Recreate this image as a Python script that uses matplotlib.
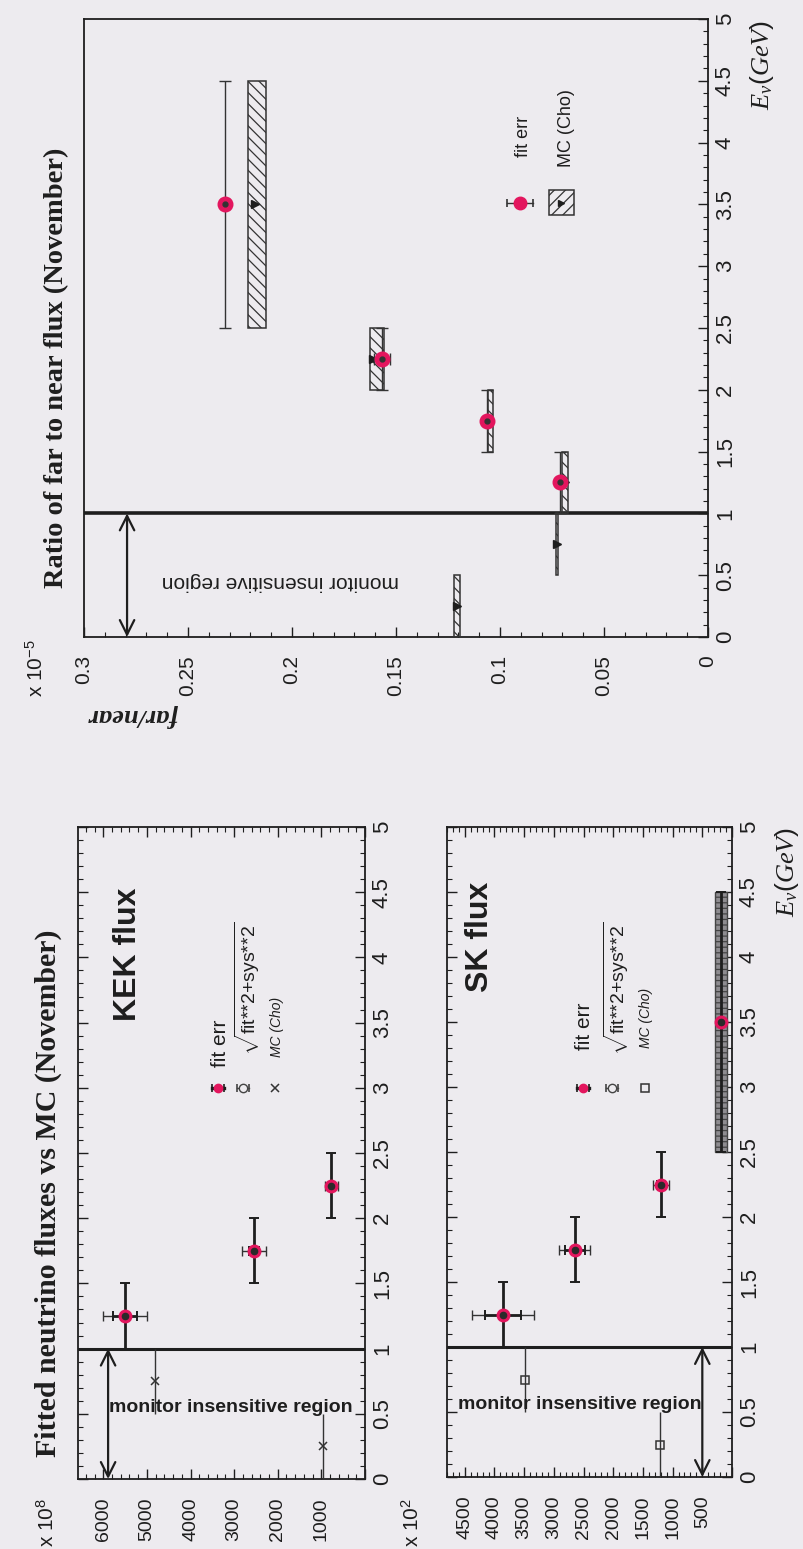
import matplotlib
matplotlib.use('Agg')
import matplotlib.pyplot as plt
from matplotlib.ticker import MultipleLocator, FuncFormatter
from matplotlib.patches import Rectangle
import numpy as np

plt.rcParams['font.family'] = ['Liberation Sans', 'DejaVu Sans']
plt.rcParams['mathtext.fontset'] = 'custom'
plt.rcParams['mathtext.rm'] = 'Liberation Sans'
plt.rcParams['mathtext.sf'] = 'Liberation Sans'
plt.rcParams['mathtext.it'] = 'Liberation Serif:italic'
plt.rcParams['mathtext.bf'] = 'Liberation Sans:bold'
plt.rcParams['hatch.linewidth'] = 0.9

# ---------------- data ----------------
energy_lo = [1.0, 1.5, 2.0, 2.5]
energy_hi = [1.5, 2.0, 2.5, 4.5]
energy_mid = [1.25, 1.75, 2.25, 3.5]

kek_flux = [5495, 2546, 772]
kek_fit_err = [276, 110, 60]
kek_tot_err = [507, 265, 150]

sk_flux = [3859, 2651, 1191, 185]
sk_fit_err = [300, 170, 70, 30]
sk_tot_err = [520, 265, 135, 60]
sk_box_lo = [90]
sk_box_hi = [290]

mc_energy_lo = [0.0, 0.5]
mc_energy_hi = [0.5, 1.0]
kek_mc_flux = [956, 4804]
sk_mc_flux = [1208, 3490]

ratio = [0.0712, 0.1063, 0.1567, 0.2322]
ratio_err = [0.0015, 0.0015, 0.004, 0.002]

mc_ratio_energy_lo = [0.0, 0.5, 1.0, 1.5, 2.0, 2.5]
mc_ratio_energy_hi = [0.5, 1.0, 1.5, 2.0, 2.5, 4.5]
mc_ratio_lo = [0.1192, 0.0722, 0.0673, 0.1034, 0.1560, 0.2125]
mc_ratio_hi = [0.1221, 0.0730, 0.0702, 0.1058, 0.1625, 0.2212]
mc_ratio_mid = [0.1207, 0.0726, 0.0688, 0.1046, 0.1610, 0.2178]

insensitive_edge = 1.0
kek_arrow_at = 5890
sk_arrow_at = 500
ratio_arrow_at = 0.2793

# ---------------- figure ----------------
W, H = 804, 1549
BG = '#edebef'
RED = '#e3165e'
INK = '#1e1e1e'
fig = plt.figure(figsize=(W / 100, H / 100), dpi=100, facecolor=BG)


def add_ax(x0, y0, x1, y1):
    ax = fig.add_axes([x0 / W, 1 - y1 / H, (x1 - x0) / W, (y1 - y0) / H])
    ax.set_facecolor(BG)
    return ax


axR = add_ax(84, 19, 708, 637)
axK = add_ax(78, 827, 365, 1479)
axS = add_ax(447, 827, 732, 1477)


def fmt_g(v, pos):
    v = round(v, 4)
    return '0' if v == 0 else f'{v:g}'


def fmt_flux(v, pos):
    return '' if abs(v) < 1e-6 else f'{v:.0f}'


def style(ax, xmax, xmajor, xminor, mirror, xfmt, xls, yls, xpad):
    ax.set_xlim(xmax, 0)
    ax.set_ylim(0, 5)
    ax.xaxis.set_major_locator(MultipleLocator(xmajor))
    ax.xaxis.set_minor_locator(MultipleLocator(xminor))
    ax.yaxis.set_major_locator(MultipleLocator(0.5))
    ax.yaxis.set_minor_locator(MultipleLocator(0.1))
    ax.xaxis.set_major_formatter(FuncFormatter(xfmt))
    ax.yaxis.set_major_formatter(FuncFormatter(fmt_g))
    ax.yaxis.tick_right()
    ax.tick_params(which='both', direction='in', bottom=True, right=True,
                   top=mirror, left=mirror, labelleft=False, labeltop=False,
                   labelright=True, labelbottom=True, colors=INK)
    ax.tick_params(which='major', length=7, width=1.0)
    ax.tick_params(which='minor', length=3.5, width=0.8)
    ax.tick_params(axis='x', labelrotation=90, pad=xpad, labelsize=xls)
    ax.tick_params(axis='y', labelrotation=90, pad=5, labelsize=yls)
    for lab in ax.get_yticklabels():
        lab.set_va('center')
    for s in ax.spines.values():
        s.set_linewidth(1.3)
        s.set_color(INK)


style(axR, 0.3, 0.05, 0.01, False, fmt_g, 15, 16, 13)
style(axK, 6580, 1000, 200, True, fmt_flux, 14, 16, 13)
style(axS, 4800, 500, 100, True, fmt_flux, 14, 16, 13)

E = np.array(energy_mid)
ylo = E - np.array(energy_lo)
yhi = np.array(energy_hi) - E
mcE = (np.array(mc_energy_lo) + np.array(mc_energy_hi)) / 2
mc_half = (np.array(mc_energy_hi) - np.array(mc_energy_lo)) / 2


def arrow(ax, x):
    ax.annotate('', xy=(x, 0), xytext=(x, insensitive_edge),
                arrowprops=dict(arrowstyle='<->', lw=1.6, color=INK,
                                mutation_scale=26, shrinkA=0, shrinkB=0),
                zorder=4)


def leg_bar(ax, fx, fy, half, color, lw, capms, marker, ms, mfc, mec):
    T = ax.transAxes
    ax.plot([fx - half, fx + half], [fy, fy], color=color, lw=lw,
            transform=T, clip_on=False, zorder=8)
    ax.plot([fx - half, fx + half], [fy, fy], ls='none', marker='|', ms=capms,
            mew=1.2, color=color, transform=T, clip_on=False, zorder=8)
    if marker:
        ax.plot([fx], [fy], ls='none', marker=marker, ms=ms, mfc=mfc, mec=mec,
                mew=1.0, transform=T, clip_on=False, zorder=9)


# ---------------- ratio panel ----------------
ax = axR
ax.axhline(insensitive_edge, color=INK, lw=2.6, zorder=3)
arrow(ax, ratio_arrow_at)
mrE_lo = np.array(mc_ratio_energy_lo)
mrE_hi = np.array(mc_ratio_energy_hi)
ax.barh((mrE_lo + mrE_hi) / 2, np.subtract(mc_ratio_hi, mc_ratio_lo),
        height=mrE_hi - mrE_lo, left=mc_ratio_lo, facecolor='none',
        edgecolor='#333333', hatch='\\\\\\', lw=1.1, zorder=4)
ax.plot(mc_ratio_mid, (mrE_lo + mrE_hi) / 2, '>', color=INK, ms=5.5, zorder=5)
ax.errorbar(ratio, E, xerr=ratio_err, yerr=[ylo, yhi], fmt='none',
            ecolor='#333333', elinewidth=1.0, capsize=4, capthick=1.0, zorder=5)
ax.plot(ratio, E, 'o', color=RED, ms=10.5, zorder=6)
ax.plot(ratio, E, 'o', color='#333333', ms=3.5, zorder=7)
ax.text(0.315, 0.089, 'monitor insensitive region', transform=ax.transAxes,
        rotation=180, ha='center', va='center', fontsize=15, color=INK)
# legend
leg_bar(ax, 0.699, 0.702, 0.021, '#333333', 1.0, 6, 'o', 9, RED, RED)
ax.text(0.705, 0.777, 'fit err', transform=ax.transAxes, rotation=90,
        rotation_mode='anchor', ha='left', va='center', fontsize=13, color=INK)
ax.add_patch(Rectangle((0.745, 0.683), 0.040, 0.040, transform=ax.transAxes,
                       fill=False, hatch='///', ec='#333333', lw=1.1, zorder=8))
ax.plot([0.765], [0.703], '>', color=INK, ms=5, transform=ax.transAxes, zorder=9)
ax.text(0.774, 0.760, 'MC (Cho)', transform=ax.transAxes, rotation=90,
        rotation_mode='anchor', ha='left', va='center', fontsize=13, color=INK)

# ---------------- KEK / SK panels ----------------
SQRT = r'$\sqrt{\mathsf{fit{*}{*}2{+}sys{*}{*}2}}$'


def flux_panel(ax, flux, fit_err, tot_err, mc_flux, arrow_at, mc_marker, name,
               name_pos, text_pos, leg):
    n = len(flux)
    ax.axhline(insensitive_edge, color=INK, lw=2.2, zorder=3)
    arrow(ax, arrow_at)
    ax.errorbar(mc_flux, mcE, yerr=mc_half, fmt=mc_marker, color='#333333',
                mfc='none' if mc_marker == 's' else '#333333', ms=6, mew=1.1,
                elinewidth=1.0, capsize=0, zorder=5)
    ax.errorbar(flux, E[:n], xerr=tot_err, fmt='none', ecolor='#333333',
                elinewidth=1.0, capsize=3.5, capthick=1.0, zorder=5)
    ax.errorbar(flux, E[:n], xerr=fit_err, yerr=[ylo[:n], yhi[:n]], fmt='none',
                ecolor=INK, elinewidth=2.0, capsize=3.5, capthick=1.4, zorder=5)
    ax.plot(flux, E[:n], 'o', color=RED, ms=9, zorder=6)
    ax.plot(flux, E[:n], 'o', color='#2a2a2a', ms=4.5, zorder=7)
    ax.text(*name_pos, name, transform=ax.transAxes, rotation=90, ha='center',
            va='center', fontsize=23, fontweight='bold', color=INK)
    ax.text(*text_pos, 'monitor insensitive region', transform=ax.transAxes,
            ha='center', va='center', fontsize=14, fontweight='bold', color=INK,
            zorder=9)
    (m1, t1), (m2, t2), (m3, t3) = leg
    leg_bar(ax, m1[0], m1[1], 0.022, INK, 2.4, 6, 'o', 6, RED, RED)
    ax.text(*t1, 'fit err', transform=ax.transAxes, rotation=90,
            rotation_mode='anchor', ha='left', va='center', fontsize=15, color=INK)
    leg_bar(ax, m2[0], m2[1], 0.022, '#444444', 1.0, 6, 'o', 6, BG, '#444444')
    ax.text(*t2, SQRT, transform=ax.transAxes, rotation=90,
            rotation_mode='anchor', ha='left', va='center', fontsize=14, color=INK)
    ax.plot([m3[0]], [m3[1]], ls='none', marker=mc_marker, ms=6, mew=1.1,
            mfc='none', mec='#333333', color='#333333', transform=ax.transAxes, zorder=9)
    ax.text(*t3, 'MC (Cho)', transform=ax.transAxes, rotation=90,
            rotation_mode='anchor', ha='left', va='center', fontsize=10,
            style='italic', color=INK)


flux_panel(axK, kek_flux, kek_fit_err, kek_tot_err, kek_mc_flux, kek_arrow_at,
           'x', 'KEK flux', (0.174, 0.804), (0.533, 0.11),
           [((0.488, 0.600), (0.495, 0.632)),
            ((0.575, 0.600), (0.589, 0.650)),
            ((0.686, 0.600), (0.693, 0.647))])
axS.barh([3.5], np.subtract(sk_box_hi, sk_box_lo), height=2.0, left=sk_box_lo,
         facecolor='#8e8c90', edgecolor='#444444', hatch='---', lw=1.0, zorder=4)
flux_panel(axS, sk_flux, sk_fit_err, sk_tot_err, sk_mc_flux, sk_arrow_at,
           's', 'SK flux', (0.116, 0.831), (0.467, 0.111),
           [((0.477, 0.598), (0.481, 0.657)),
            ((0.579, 0.598), (0.595, 0.649)),
            ((0.695, 0.598), (0.698, 0.660))])


# ---------------- figure texts ----------------
def ftext(px, py, s, **kw):
    fig.text(px / W, 1 - py / H, s, **kw)


SERIF = ['Liberation Serif', 'DejaVu Serif']
ftext(57, 368, 'Ratio of far to near flux (November)', rotation=90, ha='center',
      va='center', family=SERIF, fontweight='bold', fontsize=20.5, color=INK)
ftext(48, 1193, 'Fitted neutrino fluxes vs MC (November)', rotation=90,
      ha='center', va='center', family=SERIF, fontweight='bold', fontsize=21.5,
      color=INK)
ftext(133, 715, 'far/near', rotation=180, ha='center', va='center', family=SERIF,
      style='italic', fontweight='bold', fontsize=19, color=INK)
ftext(36, 668, r'x 10$^{-5}$', rotation=90, ha='center', va='center',
      fontsize=15, color=INK)
ftext(47, 1522, r'x 10$^{8}$', rotation=90, ha='center', va='center',
      fontsize=15, color=INK)
ftext(412, 1522, r'x 10$^{2}$', rotation=90, ha='center', va='center',
      fontsize=15, color=INK)
ftext(762, 20, r'$\mathit{E_{\nu}(GeV)}$', rotation=90, rotation_mode='anchor',
      ha='right', va='center', fontsize=19, color=INK)
ftext(787, 827, r'$\mathit{E_{\nu}(GeV)}$', rotation=90, rotation_mode='anchor',
      ha='right', va='center', fontsize=19, color=INK)

fig.savefig('out.png', dpi=100, facecolor=BG)
